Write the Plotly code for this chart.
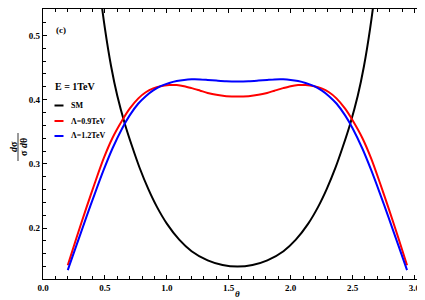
import plotly.graph_objects as go

# ---- data ----
theta_sm = [0.43, 0.46, 0.50, 0.55, 0.60, 0.66, 0.72, 0.78, 0.85, 0.92, 1.00, 1.10, 1.20, 1.33, 1.45, 1.571,
            1.692, 1.812, 1.942, 2.042, 2.142, 2.222, 2.292, 2.362, 2.422, 2.482, 2.542, 2.592, 2.642, 2.682, 2.712]
sm_vals = [0.620, 0.569, 0.511, 0.452, 0.406, 0.363, 0.327, 0.294, 0.261, 0.233, 0.207, 0.182, 0.164, 0.1496, 0.1424,
           0.140,
           0.1424, 0.1496, 0.164, 0.182, 0.207, 0.233, 0.261, 0.294, 0.327, 0.363, 0.406, 0.452, 0.511, 0.569, 0.620]

theta_bsm = [0.20, 0.27, 0.35, 0.42, 0.49, 0.56, 0.64, 0.70, 0.77, 0.83, 0.89, 0.95, 1.02, 1.08, 1.14, 1.20, 1.27, 1.33,
             1.40, 1.48, 1.571, 1.66, 1.74, 1.81, 1.87, 1.94, 2.00, 2.06, 2.12, 2.19, 2.25, 2.31, 2.37, 2.44, 2.50,
             2.58, 2.65, 2.72, 2.79, 2.87, 2.94]
red_vals = [0.142, 0.1845, 0.2315, 0.271, 0.3085, 0.340, 0.368, 0.386, 0.402, 0.4115, 0.4175, 0.421, 0.4228, 0.4228,
            0.421, 0.418, 0.414, 0.4105, 0.4075, 0.4055, 0.4048,
            0.4055, 0.4075, 0.4105, 0.414, 0.418, 0.421, 0.4228, 0.4228, 0.421, 0.4175, 0.4115, 0.402, 0.386, 0.368,
            0.340, 0.3085, 0.271, 0.2315, 0.1845, 0.142]
blue_vals = [0.1345, 0.173, 0.217, 0.2545, 0.2905, 0.3235, 0.3555, 0.3755, 0.394, 0.4055, 0.4145, 0.421, 0.426, 0.429,
             0.4308, 0.4316, 0.4315, 0.4307, 0.4297, 0.4287, 0.4283,
             0.4287, 0.4297, 0.4307, 0.4315, 0.4316, 0.4308, 0.429, 0.426, 0.421, 0.4145, 0.4055, 0.394, 0.3755,
             0.3555, 0.3235, 0.2905, 0.2545, 0.217, 0.173, 0.1345]

x_ticks = [0.0, 0.5, 1.0, 1.5, 2.0, 2.5, 3.0]
x_tick_labels = ["0.0", "0.5", "1.0", "1.5", "2.0", "2.5", "3.0"]
y_ticks = [0.2, 0.3, 0.4, 0.5]
y_tick_labels = ["0.2", "0.3", "0.4", "0.5"]

series_names = ["SM", "Λ=0.9TeV", "Λ=1.2TeV"]
series_colors = ["#000000", "#ff0000", "#0000ff"]
legend_title = "E = 1TeV"
panel_label = "(c)"

W, H = 425, 300
ML, MR, MT, MB = 35, 1, 1, 29
PW, PH = W - ML - MR, H - MT - MB


def px(x):
    return (x - ML) / PW


def py(y):
    return (H - MB - y) / PH


SERIF = "Liberation Serif, Times New Roman, serif"

fig = go.Figure()
for xs, ys, nm, col in [(theta_sm, sm_vals, series_names[0], series_colors[0]),
                        (theta_bsm, red_vals, series_names[1], series_colors[1]),
                        (theta_bsm, blue_vals, series_names[2], series_colors[2])]:
    fig.add_trace(go.Scatter(x=xs, y=ys, mode="lines", name=nm,
                             line=dict(color=col, width=2, shape="spline", smoothing=0.8)))

axis_common = dict(showline=True, linecolor="black", linewidth=1.2, mirror="ticks", ticks="inside",
                   tickcolor="black", ticklen=4, tickwidth=1, showgrid=False, zeroline=False,
                   tickfont=dict(family=SERIF, size=9, color="black"))
fig.update_xaxes(range=[0, 3.1416], tickvals=x_ticks, ticktext=["<b>%s</b>" % t for t in x_tick_labels],
                 minor=dict(dtick=0.1, tick0=0, ticks="inside", ticklen=2.5, tickcolor="black", tickwidth=1),
                 **axis_common)
fig.update_yaxes(range=[0.1207, 0.5412], tickvals=y_ticks, ticktext=["<b>%s</b>" % t for t in y_tick_labels],
                 minor=dict(dtick=0.02, tick0=0, ticks="inside", ticklen=2.5, tickcolor="black", tickwidth=1),
                 **axis_common)

ann = []
# x-axis title
ann.append(dict(x=0.5, y=py(286), xref="paper", yref="paper", text="<b><i>θ</i></b>", showarrow=False,
                font=dict(family=SERIF, size=9, color="black"), xanchor="center", yanchor="middle", borderpad=0))
# y-axis title as fraction
ann.append(dict(x=px(5), y=py(139), xref="paper", yref="paper", text="<b><i>d</i>σ</b>", showarrow=False,
                textangle=-90, font=dict(family=SERIF, size=10, color="black"), xanchor="center", yanchor="middle",
                borderpad=0))
ann.append(dict(x=px(15), y=py(139), xref="paper", yref="paper", text="<b>σ <i>d</i>θ</b>", showarrow=False,
                textangle=-90, font=dict(family=SERIF, size=10, color="black"), xanchor="center", yanchor="middle",
                borderpad=0))
# panel label
ann.append(dict(x=px(46), y=py(22), xref="paper", yref="paper", text="<b>%s</b>" % panel_label, showarrow=False,
                font=dict(family=SERIF, size=9, color="black"), xanchor="left", yanchor="middle"))
# legend
ann.append(dict(x=px(45), y=py(78), xref="paper", yref="paper", text="<b>%s</b>" % legend_title, showarrow=False,
                font=dict(family=SERIF, size=10, color="black"), xanchor="left", yanchor="middle"))
shapes = [dict(type="line", xref="paper", yref="paper", x0=px(10), x1=px(10), y0=py(125), y1=py(153),
               line=dict(color="black", width=0.8))]
leg_y = [97.5, 113, 128]
for name, col, yy in zip(series_names, series_colors, leg_y):
    shapes.append(dict(type="line", xref="paper", yref="paper", x0=px(46.5), x1=px(55.5), y0=py(yy), y1=py(yy),
                       line=dict(color=col, width=2)))
    ann.append(dict(x=px(61), y=py(yy), xref="paper", yref="paper", text="<b>%s</b>" % name, showarrow=False,
                    font=dict(family=SERIF, size=8, color="black"), xanchor="left", yanchor="middle"))

fig.update_layout(width=W, height=H, margin=dict(l=ML, r=MR, t=MT, b=MB), paper_bgcolor="white",
                  plot_bgcolor="white", showlegend=False, annotations=ann, shapes=shapes)

fig.write_html("out.html")
